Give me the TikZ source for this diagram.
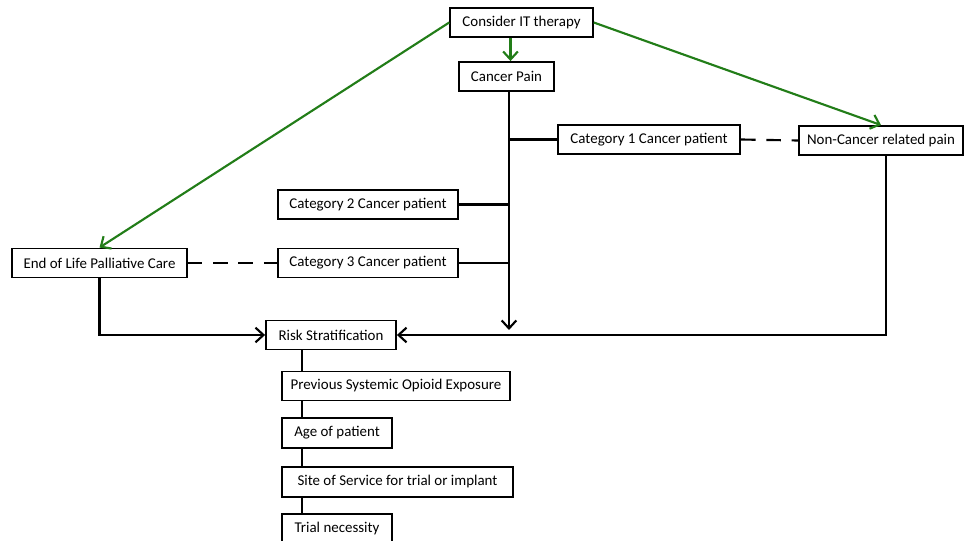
\documentclass[tikz,border=0pt]{standalone}
\usepackage{fontspec}
\setmainfont{Carlito}
\usetikzlibrary{arrows.meta}
\definecolor{itgreen}{RGB}{34,125,24}
\tikzset{
  box/.style={draw, line width=1.4pt, fill=white, minimum height=21.75pt, inner sep=2pt, font=\fontsize{11.2}{13}\selectfont},
  link/.style={line width=1.6pt},
  arr/.style={link, -{Straight Barb[length=6pt,width=11pt,line width=1.6pt]}},
  garr/.style={line width=1.6pt, itgreen, -{Straight Barb[length=6pt,width=11pt,line width=1.6pt]}},
  dashlink/.style={link, dash pattern=on 11pt off 8pt}
}
\begin{document}
\begin{tikzpicture}[x=0.75pt,y=-0.75pt]
    \useasboundingbox (0,0) rectangle (964,541);

    % top of the tree
    \node[box, minimum width=107pt] (it) at (521.5,22.5) {Consider IT therapy};
    \node[box, minimum width=71pt] (pain) at (506.5,76.5) {Cancer Pain};
    \node[box, minimum width=136.5pt] (cat1) at (649,139.5) {Category 1 Cancer patient};
    \node[box, minimum width=123pt] (noncancer) at (881,140.5) {Non-Cancer related pain};

    % cancer categories
    \node[box, minimum width=135pt] (cat2) at (368,204.5) {Category 2 Cancer patient};
    \node[box, minimum width=135pt] (cat3) at (368,263) {Category 3 Cancer patient};
    \node[box, minimum width=131pt] (eol) at (99.5,263) {End of Life Palliative Care};

    % risk stratification chain
    \node[box, minimum width=97.5pt] (risk) at (331,335) {Risk Stratification};
    \node[box, minimum width=171pt, minimum height=21.75pt] (prev) at (396,386) {Previous Systemic Opioid Exposure};
    \node[box, minimum width=82.5pt, minimum height=23pt] (age) at (337,433) {Age of patient};
    \node[box, minimum width=173pt, minimum height=22.5pt] (site) at (397.5,482) {Site of Service for trial or implant};
    \node[box, minimum width=82.5pt, minimum height=22.5pt] (trial) at (337,529) {Trial necessity};

    \coordinate (jtip) at (509,330);
    \coordinate (chainx) at (302,0);

    % green arrows
    \draw[garr] (it.west) -- (eol.north);
    \draw[garr] (it.east) -- (noncancer.north);
    \draw[garr] ([xshift=3pt]it.south -| pain.north) -- ([xshift=3pt]pain.north);

    % trunk
    \draw[arr] (pain.south -| jtip) -- (jtip);
    \draw[link] (cat1.west) -- (cat1.west -| jtip);
    \draw[link] (cat2.east) -- (cat2.east -| jtip);
    \draw[link] (cat3.east) -- (cat3.east -| jtip);

    \draw[dashlink] (cat1.east) -- (noncancer.west);
    \draw[dashlink] (eol.east) -- (cat3.west);

    \draw[arr] ([xshift=3.75pt]noncancer.south) |- (risk.east);
    \draw[arr] (eol.south) |- (risk.west);

    \foreach \a/\b in {risk/prev,prev/age,age/site,site/trial}
        \draw[link] (\a.south -| chainx) -- (\b.north -| chainx);
\end{tikzpicture}
\end{document}
